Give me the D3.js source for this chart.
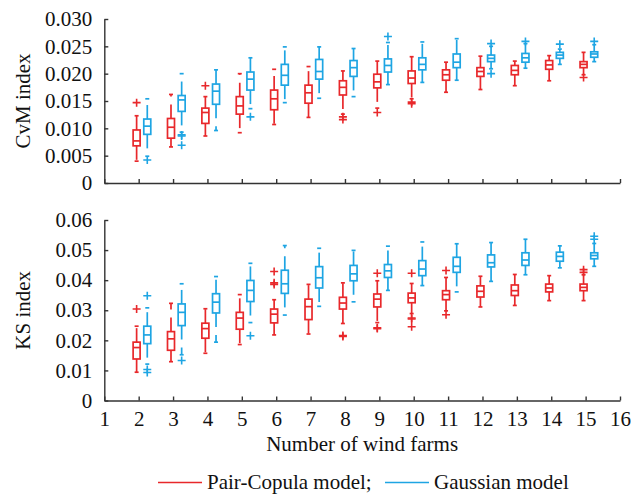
<!DOCTYPE html>
<html>
<head>
<meta charset="utf-8">
<script src="https://cdn.jsdelivr.net/npm/d3@7"></script>
<style>
  body { margin: 0; background: #fff; }
  svg { display: block; font-family: "Times New Roman", "Liberation Serif", "DejaVu Serif", serif; }
</style>
</head>
<body>
<svg id="chart" width="644" height="494"></svg>
<script>
// Box plots: CvM and KS index vs number of wind farms

// ------------------------------------------------------------------ DATA
// each row: [lower whisker, Q1, median, Q3, upper whisker]
var farms = [2, 3, 4, 5, 6, 7, 8, 9, 10, 11, 12, 13, 14, 15];
var xTicks = d3.range(1, 17);

var cvmPair = [
  [0.0040, 0.0068, 0.0077, 0.0097, 0.0123],
  [0.0066, 0.0082, 0.0102, 0.0118, 0.0162],
  [0.0086, 0.0109, 0.0129, 0.0137, 0.0158],
  [0.0092, 0.0126, 0.0141, 0.0158, 0.0200],
  [0.0107, 0.0134, 0.0154, 0.0170, 0.0208],
  [0.0120, 0.0146, 0.0165, 0.0179, 0.0213],
  [0.0126, 0.0161, 0.0175, 0.0187, 0.0205],
  [0.0137, 0.0174, 0.0185, 0.0199, 0.0223],
  [0.0154, 0.0182, 0.0192, 0.0205, 0.0231],
  [0.0166, 0.0188, 0.0198, 0.0207, 0.0221],
  [0.0171, 0.0195, 0.0204, 0.0211, 0.0232],
  [0.0178, 0.0198, 0.0206, 0.0215, 0.0223],
  [0.0187, 0.0208, 0.0216, 0.0224, 0.0233],
  [0.0198, 0.0211, 0.0217, 0.0222, 0.0239]
];
var cvmPairOut = [[0.0147], [], [0.0178], [], [], [], [0.0121, 0.0116], [0.0129],
  [0.0148, 0.0145], [], [], [], [], [0.0193]];

var cvmGauss = [
  [0.0049, 0.0089, 0.0104, 0.0117, 0.0154],
  [0.0093, 0.0131, 0.0152, 0.0160, 0.0200],
  [0.0096, 0.0144, 0.0168, 0.0181, 0.0207],
  [0.0136, 0.0170, 0.0190, 0.0203, 0.0229],
  [0.0147, 0.0179, 0.0197, 0.0217, 0.0249],
  [0.0155, 0.0190, 0.0204, 0.0226, 0.0249],
  [0.0158, 0.0195, 0.0211, 0.0224, 0.0246],
  [0.0180, 0.0203, 0.0215, 0.0227, 0.0257],
  [0.0184, 0.0207, 0.0217, 0.0229, 0.0258],
  [0.0188, 0.0211, 0.0221, 0.0236, 0.0264],
  [0.0209, 0.0222, 0.0228, 0.0234, 0.0250],
  [0.0210, 0.0221, 0.0229, 0.0237, 0.0255],
  [0.0217, 0.0228, 0.0234, 0.0239, 0.0245],
  [0.0222, 0.0230, 0.0236, 0.0240, 0.0253]
];
var cvmGaussOut = [[0.0042], [0.0088, 0.0086, 0.0069], [], [0.0121], [], [], [], [0.0268],
  [], [], [0.0255, 0.0200], [0.0259], [0.0254], [0.0259]];

var ksPair = [
  [0.0094, 0.0138, 0.0176, 0.0194, 0.0247],
  [0.0129, 0.0167, 0.0205, 0.0229, 0.0323],
  [0.0157, 0.0207, 0.0239, 0.0257, 0.0305],
  [0.0186, 0.0237, 0.0274, 0.0293, 0.0352],
  [0.0218, 0.0258, 0.0287, 0.0304, 0.0335],
  [0.0221, 0.0269, 0.0312, 0.0337, 0.0386],
  [0.0256, 0.0304, 0.0324, 0.0343, 0.0391],
  [0.0259, 0.0311, 0.0337, 0.0354, 0.0398],
  [0.0289, 0.0325, 0.0341, 0.0357, 0.0389],
  [0.0298, 0.0335, 0.0352, 0.0365, 0.0409],
  [0.0311, 0.0344, 0.0363, 0.0381, 0.0413],
  [0.0316, 0.0349, 0.0365, 0.0384, 0.0419],
  [0.0332, 0.0361, 0.0374, 0.0387, 0.0415],
  [0.0332, 0.0365, 0.0376, 0.0387, 0.0418]
];
var ksPairOut = [[0.0304], [], [], [], [0.0429, 0.0391, 0.0386], [], [0.0216, 0.0213],
  [0.0423, 0.0242, 0.0239], [0.0423, 0.0274, 0.0271, 0.0245], [0.0432, 0.0285], [], [], [],
  [0.0435, 0.0426]];

var ksGauss = [
  [0.0121, 0.0189, 0.0218, 0.0247, 0.0308],
  [0.0152, 0.0249, 0.0293, 0.0321, 0.0388],
  [0.0194, 0.0291, 0.0327, 0.0355, 0.0412],
  [0.0259, 0.0329, 0.0366, 0.0399, 0.0456],
  [0.0284, 0.0356, 0.0388, 0.0433, 0.0515],
  [0.0313, 0.0374, 0.0408, 0.0445, 0.0506],
  [0.0328, 0.0398, 0.0421, 0.0449, 0.0499],
  [0.0366, 0.0409, 0.0431, 0.0452, 0.0513],
  [0.0382, 0.0415, 0.0437, 0.0465, 0.0527],
  [0.0361, 0.0426, 0.0446, 0.0476, 0.0521],
  [0.0396, 0.0444, 0.0458, 0.0484, 0.0525],
  [0.0418, 0.0449, 0.0467, 0.0491, 0.0536],
  [0.0441, 0.0463, 0.0479, 0.0493, 0.0514],
  [0.0446, 0.0471, 0.0482, 0.0491, 0.0522]
];
var ksGaussOut = [[0.0348, 0.0103, 0.0093], [0.0133], [], [0.0215], [], [], [], [],
  [], [], [], [], [], [0.0546, 0.0536]];

var seriesNames = ['Pair-Copula model;', 'Gaussian model'];

// ------------------------------------------------------------------ STYLE
var RED = '#e8282b',
  BLUE = '#1ea5e3',
  AXIS = '#333',
  FONT = '21px',
  FAMILY = '"Times New Roman", "Liberation Serif", "DejaVu Serif", serif',
  BOX_W = 7,
  CAP_W = 4,
  PLUS = 4,
  LEFT = 104.3,
  RIGHT = 620;

var svg = d3.select('#chart');

var x = d3.scaleLinear().domain([1, 16]).range([LEFT, RIGHT]);

var series = [
  { color: RED, offset: -0.06 },
  { color: BLUE, offset: 0.25 }
];

function drawPanel(opts) {
  var g = svg.append('g');
  var y = opts.y;

  // y axis, ticks pointing in
  g.append('g')
    .attr('transform', 'translate(' + LEFT + ',0)')
    .call(d3.axisLeft(y)
      .tickValues(opts.ticks)
      .tickFormat(function(d) { return d === 0 ? '0' : d3.format(opts.fmt)(d); })
      .tickSizeInner(-4)
      .tickSizeOuter(0)
      .tickPadding(12))
    .call(styleAxis);

  // x axis
  var xAxis = d3.axisBottom(x)
    .tickValues(xTicks)
    .tickSizeInner(-4)
    .tickSizeOuter(0)
    .tickPadding(11);
  if (!opts.xLabels) xAxis.tickFormat('');

  g.append('g')
    .attr('transform', 'translate(0,' + y.range()[0] + ')')
    .call(xAxis)
    .call(styleAxis);

  // y title
  g.append('text')
    .attr('transform', 'translate(30,' + d3.mean(y.range()) + ') rotate(-90)')
    .style('text-anchor', 'middle')
    .style('font-size', FONT)
    .style('font-family', FAMILY)
    .attr('fill', '#111')
    .text(opts.title);

  // boxes
  opts.data.forEach(function(stats, si) {
    var s = series[si],
      outs = opts.outliers[si];

    var boxes = g.append('g')
      .selectAll('g')
      .data(stats)
      .enter()
      .append('g')
      .attr('transform', function(d, i) { return 'translate(' + x(farms[i] + s.offset) + ',0)'; })
      .attr('stroke', s.color)
      .attr('fill', 'none')
      .attr('stroke-width', 1.7);

    // upper + lower whiskers (dashed, starting from the box edge)
    boxes.append('line')
      .attr('x1', 0).attr('x2', 0)
      .attr('y1', function(d) { return y(d[3]); })
      .attr('y2', function(d) { return y(d[4]); })
      .attr('stroke-dasharray', '14,8');
    boxes.append('line')
      .attr('x1', 0).attr('x2', 0)
      .attr('y1', function(d) { return y(d[1]); })
      .attr('y2', function(d) { return y(d[0]); })
      .attr('stroke-dasharray', '14,8');

    // whisker caps
    boxes.append('line')
      .attr('x1', -CAP_W / 2).attr('x2', CAP_W / 2)
      .attr('y1', function(d) { return y(d[4]); })
      .attr('y2', function(d) { return y(d[4]); });
    boxes.append('line')
      .attr('x1', -CAP_W / 2).attr('x2', CAP_W / 2)
      .attr('y1', function(d) { return y(d[0]); })
      .attr('y2', function(d) { return y(d[0]); });

    // box
    boxes.append('rect')
      .attr('x', -BOX_W / 2)
      .attr('width', BOX_W)
      .attr('y', function(d) { return y(d[3]); })
      .attr('height', function(d) { return y(d[1]) - y(d[3]); });

    // median
    boxes.append('line')
      .attr('x1', -BOX_W / 2).attr('x2', BOX_W / 2)
      .attr('y1', function(d) { return y(d[2]); })
      .attr('y2', function(d) { return y(d[2]); });

    // outliers as +
    var pts = [];
    outs.forEach(function(list, i) {
      list.forEach(function(v) { pts.push({ n: farms[i], v: v }); });
    });

    g.append('g')
      .selectAll('path')
      .data(pts)
      .enter()
      .append('path')
      .attr('d', function(d) {
        var cx = x(d.n + s.offset), cy = y(d.v);
        return 'M' + (cx - PLUS) + ',' + cy + 'H' + (cx + PLUS) +
          'M' + cx + ',' + (cy - PLUS) + 'V' + (cy + PLUS);
      })
      .attr('stroke', s.color)
      .attr('stroke-width', 1.6)
      .attr('fill', 'none');
  });
}

function styleAxis(sel) {
  sel.select('.domain').attr('stroke', AXIS).attr('stroke-width', 1.4);
  sel.selectAll('.tick line').attr('stroke', AXIS).attr('stroke-width', 1.4);
  sel.selectAll('.tick text')
    .attr('fill', '#111')
    .style('font-size', FONT)
    .style('font-family', FAMILY);
}

// ------------------------------------------------------------------ PANELS
drawPanel({
  y: d3.scaleLinear().domain([0, 0.03]).range([183, 19]),
  ticks: d3.range(0, 0.0301, 0.005),
  fmt: '.3f',
  title: 'CvM index',
  xLabels: false,
  data: [cvmPair, cvmGauss],
  outliers: [cvmPairOut, cvmGaussOut]
});

drawPanel({
  y: d3.scaleLinear().domain([0, 0.06]).range([400.5, 220]),
  ticks: d3.range(0, 0.0601, 0.01),
  fmt: '.2f',
  title: 'KS index',
  xLabels: true,
  data: [ksPair, ksGauss],
  outliers: [ksPairOut, ksGaussOut]
});

// x title
svg.append('text')
  .attr('x', (LEFT + RIGHT) / 2)
  .attr('y', 451)
  .style('text-anchor', 'middle')
  .style('font-size', FONT)
  .style('font-family', FAMILY)
  .attr('fill', '#111')
  .text('Number of wind farms');

// ------------------------------------------------------------------ LEGEND
var legendX = [158, 385];
series.forEach(function(s, i) {
  svg.append('line')
    .attr('x1', legendX[i]).attr('x2', legendX[i] + 44)
    .attr('y1', 482.5).attr('y2', 482.5)
    .attr('stroke', s.color)
    .attr('stroke-width', 1.4);
  svg.append('text')
    .attr('x', legendX[i] + 49)
    .attr('y', 488.5)
    .style('font-size', FONT)
    .style('font-family', FAMILY)
    .attr('fill', '#111')
    .text(seriesNames[i]);
});
</script>
</body>
</html>
